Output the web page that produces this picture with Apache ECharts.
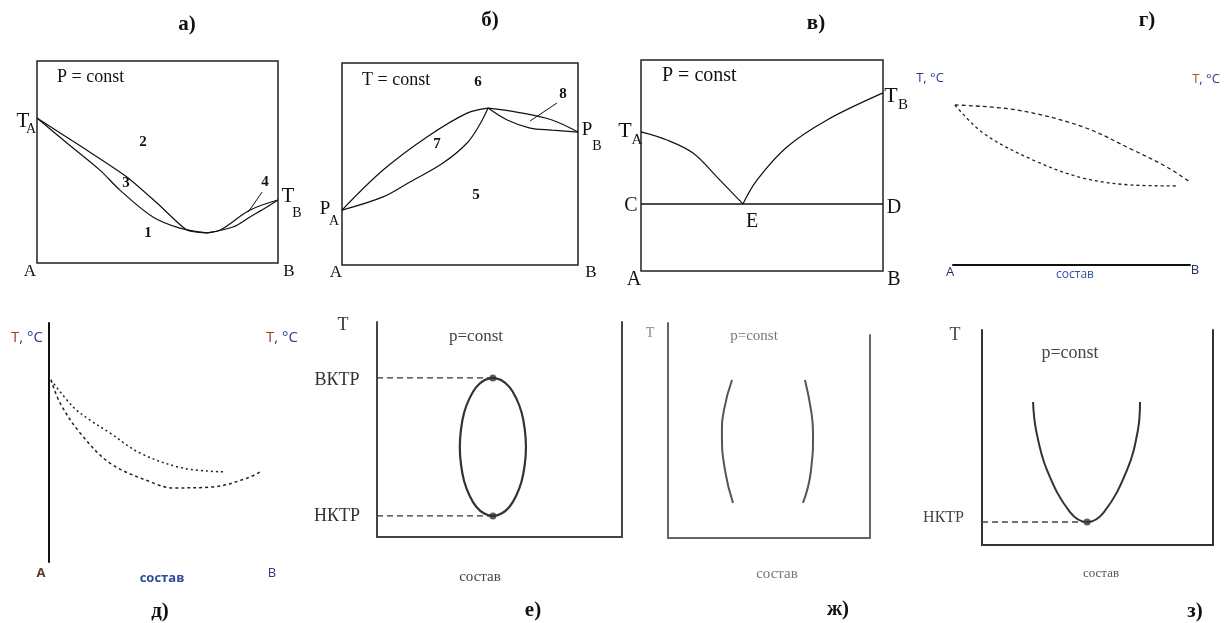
<!DOCTYPE html>
<html>
<head>
<meta charset="utf-8">
<script src="https://cdn.jsdelivr.net/npm/echarts@6/dist/echarts.min.js"></script>
<style>html,body{margin:0;padding:0;background:#fff}#c{width:1231px;height:623px}</style>
</head>
<body>
<div id="c"></div>
<script>
// ---- data (normalised composition x, normalised T/P y) ----
// а) azeotrope with minimum
const aVapour = [[0,0.718],[0.187,0.574],[0.373,0.426],[0.498,0.297],[0.622,0.163],[0.705,0.149]];
const aLiquid = [[0,0.718],[0.124,0.594],[0.261,0.46],[0.344,0.361],[0.481,0.228],[0.593,0.173],[0.705,0.149]];
const aLiquidR = [[0.705,0.149],[0.813,0.178],[0.884,0.228],[0.954,0.277],[1,0.312]];
const aVapourR = [[0.705,0.149],[0.76,0.163],[0.884,0.262],[1,0.312]];
const aPointer = [[0.934,0.351],[0.876,0.252]];
// б) azeotrope with maximum (T = const)
const bUpperL = [[0,0.272],[0.174,0.47],[0.36,0.634],[0.53,0.752],[0.619,0.777]];
const bLowerL = [[0,0.272],[0.174,0.337],[0.288,0.411],[0.428,0.505],[0.53,0.604],[0.585,0.698],[0.619,0.777]];
const bUpperR = [[0.619,0.777],[0.74,0.757],[0.89,0.718],[1,0.658]];
const bLowerR = [[0.619,0.777],[0.7,0.718],[0.797,0.678],[0.89,0.668],[1,0.658]];
const bPointer = [[0.911,0.802],[0.797,0.713]];
// в) eutectic
const vLeft = [[0,0.659],[0.107,0.621],[0.215,0.559],[0.314,0.445],[0.421,0.318]];
const vRight = [[0.421,0.318],[0.479,0.431],[0.603,0.588],[0.769,0.716],[1,0.844]];
const vEutectic = [[0,0.318],[1,0.318]];
// г) lens
const gUpper = [[0.008,0.889],[0.27,0.861],[0.549,0.767],[0.759,0.639],[0.903,0.544],[1,0.461]];
const gLower = [[0.008,0.889],[0.127,0.733],[0.338,0.583],[0.549,0.483],[0.759,0.444],[0.95,0.439]];
// д) lens
const dUpper = [[0.009,0.762],[0.113,0.649],[0.192,0.594],[0.286,0.54],[0.427,0.456],[0.629,0.393],[0.826,0.377]];
const dLower = [[0.009,0.762],[0.052,0.665],[0.146,0.54],[0.286,0.414],[0.488,0.331],[0.582,0.31],[0.77,0.314],[0.93,0.351],[1,0.381]];
// е) closed miscibility loop (points read around the curve)
const eLoop = [[0.473,0.740],[0.508,0.729],[0.541,0.697],[0.568,0.646],[0.590,0.580],[0.603,0.502],[0.608,0.419],
  [0.603,0.336],[0.590,0.258],[0.568,0.192],[0.541,0.141],[0.508,0.109],[0.473,0.098],[0.438,0.109],[0.405,0.141],
  [0.378,0.192],[0.356,0.258],[0.343,0.336],[0.338,0.419],[0.343,0.502],[0.356,0.580],[0.378,0.646],[0.405,0.697],
  [0.438,0.729],[0.473,0.740]];
const eUCST = [[0,0.74],[0.473,0.74]];
const eLCST = [[0,0.098],[0.473,0.098]];
const eCritical = [[0.473,0.74],[0.473,0.098]];
// ж) two binodal branches
const zhLeft = [[0.317,0.735],[0.277,0.595],[0.267,0.488],[0.282,0.316],[0.322,0.163]];
const zhRight = [[0.678,0.735],[0.708,0.595],[0.718,0.488],[0.708,0.316],[0.668,0.163]];
// з) lower critical solution temperature
const zCurve = [[0.221,0.665],[0.234,0.535],[0.281,0.349],[0.381,0.153],[0.455,0.107],[0.528,0.153],[0.628,0.349],[0.675,0.535],[0.684,0.665]];
const zLCST = [[0,0.107],[0.455,0.107]];
const zCritical = [[0.455,0.107]];

// ---- layout ----
const grids = [
  {left:37, top:61, width:241, height:202, show:true, borderColor:'#222', borderWidth:1.5},   // а
  {left:342, top:63, width:236, height:202, show:true, borderColor:'#222', borderWidth:1.5},  // б
  {left:641, top:60, width:242, height:211, show:true, borderColor:'#222', borderWidth:1.5},  // в
  {left:953, top:85, width:237, height:180},  // г
  {left:49, top:323, width:213, height:239},  // д
  {left:377, top:322, width:245, height:215}, // е
  {left:668, top:323, width:202, height:215}, // ж
  {left:668, top:335, width:202, height:203}, // ж right side
  {left:982, top:330, width:231, height:215}  // з
];
function ax(i, showLine, color, pos){
  return {gridIndex:i, type:'value', min:0, max:1, position:pos,
    axisLine:{show:!!showLine, onZero:false, lineStyle:{color:color||'#222', width:2}},
    axisTick:{show:false}, axisLabel:{show:false}, splitLine:{show:false}};
}
const xAxes = [ax(0),ax(1),ax(2),ax(3,true,'#111','bottom'),ax(4),ax(5,true,'#444','bottom'),ax(6,true,'#666','bottom'),ax(7),ax(8,true,'#333','bottom')];
const yAxes = [ax(0),ax(1),ax(2),ax(3),ax(4,true,'#111','left'),ax(5,true,'#444','left'),ax(6,true,'#666','left'),ax(7,true,'#666','right'),ax(8,true,'#333','left'),
  ax(5,true,'#444','right'), ax(8,true,'#333','right')];

function L(data, i, style, extra){
  return Object.assign({type:'line', data:data, xAxisIndex:i, yAxisIndex:i, showSymbol:false, symbol:'none',
    smooth:0.35, silent:true, lineStyle:Object.assign({color:'#111', width:1.2}, style||{})}, extra||{});
}
const series = [
  L(aVapour,0,{},{smooth:0.2}), L(aLiquid,0), L(aLiquidR,0), L(aVapourR,0), L(aPointer,0,{width:1},{smooth:false}),
  L(bUpperL,1), L(bLowerL,1), L(bUpperR,1), L(bLowerR,1), L(bPointer,1,{width:1},{smooth:false}),
  L(vLeft,2), L(vRight,2), L(vEutectic,2,{width:1.5},{smooth:false}),
  L(gUpper,3,{type:[4,3],width:1.3,color:'#222'}), L(gLower,3,{type:[3,3],width:1.3,color:'#222'}),
  L(dUpper,4,{type:[2,3],width:1.5,color:'#222'}), L(dLower,4,{type:[3,3],width:1.5,color:'#222'}),
  L(eLoop,5,{width:2.2,color:'#333'},{smooth:0.3}),
  L(eUCST,5,{type:[6,4],width:1.3,color:'#333'},{smooth:false}),
  L(eLCST,5,{type:[6,4],width:1.3,color:'#333'},{smooth:false}),
  {type:'scatter', data:eCritical, xAxisIndex:5, yAxisIndex:5, symbolSize:7, itemStyle:{color:'#333'}, silent:true},
  L(zhLeft,6,{width:2,color:'#555'},{smooth:0.5}), L(zhRight,6,{width:2,color:'#555'},{smooth:0.5}),
  L(zCurve,8,{width:2,color:'#333'},{smooth:0.4}),
  L(zLCST,8,{type:[6,4],width:1.3,color:'#444'},{smooth:false}),
  {type:'scatter', data:zCritical, xAxisIndex:8, yAxisIndex:8, symbolSize:7, itemStyle:{color:'#333'}, silent:true}
];

// ---- text ----
const SERIF = '"Liberation Serif", "DejaVu Serif", serif';
const SANS = '"Open Sans", "Liberation Sans", sans-serif';
function T(x, y, text, size, opt){
  opt = opt || {};
  return {type:'text', x:x, y:y, silent:true, style:{text:text,
    font:(opt.bold?'bold ':'') + size + 'px ' + (opt.family||SERIF),
    fill:opt.color||'#111', textAlign:opt.align||'center', textVerticalAlign:'middle'}};
}
function R(x, y, text, rich){
  return {type:'text', x:x, y:y, silent:true, style:{text:text, rich:rich, textAlign:'center', textVerticalAlign:'middle'}};
}
const richTC1 = {t:{font:'13px '+SANS, fill:'#2b3a8a'}, c:{font:'13px '+SANS, fill:'#2b3a8a'}};
const richTC2 = {t:{font:'13px '+SANS, fill:'#9a5a1a'}, c:{font:'13px '+SANS, fill:'#2b3a8a'}};
const richTC3 = {t:{font:'15px '+SANS, fill:'#8a4a2a'}, c:{font:'15px '+SANS, fill:'#2b3a8a'}};
const graphics = [
  // а
  T(187,25,'а)',21,{bold:true}),
  T(57,77,'P = const',18,{align:'left'}),
  T(23,121,'T',21), T(31,129,'A',14),
  T(288,196,'T',21), T(297,213,'B',14),
  T(30,272,'A',17), T(289,272,'B',17),
  T(143,142,'2',15,{bold:true}), T(126,183,'3',15,{bold:true}), T(148,233,'1',15,{bold:true}), T(265,182,'4',15,{bold:true}),
  // б
  T(490,21,'б)',21,{bold:true}),
  T(362,80,'T = const',18,{align:'left'}),
  T(325,209,'P',19), T(334,221,'A',14),
  T(587,130,'P',19), T(597,146,'B',14),
  T(336,273,'A',17), T(591,273,'B',17),
  T(478,82,'6',15,{bold:true}), T(563,94,'8',15,{bold:true}), T(437,144,'7',15,{bold:true}), T(476,195,'5',15,{bold:true}),
  // в
  T(816,24,'в)',21,{bold:true}),
  T(662,76,'P = const',20,{align:'left'}),
  T(625,131,'T',22), T(637,140,'A',15),
  T(891,96,'T',22), T(903,105,'B',15),
  T(631,206,'C',20), T(894,208,'D',20), T(752,222,'E',20),
  T(634,280,'A',20), T(894,280,'B',20),
  // г
  T(1147,21,'г)',21,{bold:true}),
  R(930,78,'{t|T}{c|, °C}',richTC1), R(1206,79,'{t|T}{c|, °C}',richTC2),
  T(950,272,'A',13,{family:SANS,color:'#1f2d6e'}), T(1195,270,'B',13,{family:SANS,color:'#1f2d6e'}),
  T(1075,275,'состав',12,{family:SANS,color:'#3050a0'}),
  // д
  T(160,612,'д)',21,{bold:true}),
  R(27,338,'{t|T}{c|, °C}',richTC3), R(282,338,'{t|T}{c|, °C}',richTC3),
  T(41,573,'A',13,{family:SANS,color:'#5a3a2a',bold:true}), T(272,573,'B',13,{family:SANS,color:'#2b3a8a'}),
  T(162,578,'состав',13,{family:SANS,color:'#2b4a9a',bold:true}),
  // е
  T(533,611,'е)',21,{bold:true}),
  T(343,325,'T',18,{color:'#333'}),
  T(476,337,'p=const',17,{color:'#444'}),
  T(337,380,'ВКТР',18,{color:'#333'}), T(337,516,'НКТР',18,{color:'#333'}),
  T(480,577,'состав',15,{color:'#444'}),
  // ж
  T(838,610,'ж)',21,{bold:true}),
  T(650,333,'T',14,{color:'#888'}),
  T(754,336,'p=const',15,{color:'#777'}),
  T(777,574,'состав',15,{color:'#777'}),
  // з
  T(1195,612,'з)',21,{bold:true}),
  T(955,335,'T',18,{color:'#444'}),
  T(1070,353,'p=const',18,{color:'#444'}),
  T(964,518,'НКТР',16,{color:'#444',align:'right'}),
  T(1101,574,'состав',13,{color:'#555'})
];

const chart = echarts.init(document.getElementById('c'), null, {renderer:'canvas'});
chart.setOption({
  animation:false,
  backgroundColor:'#fff',
  grid:grids, xAxis:xAxes, yAxis:yAxes, series:series, graphic:graphics
});
</script>
</body>
</html>
